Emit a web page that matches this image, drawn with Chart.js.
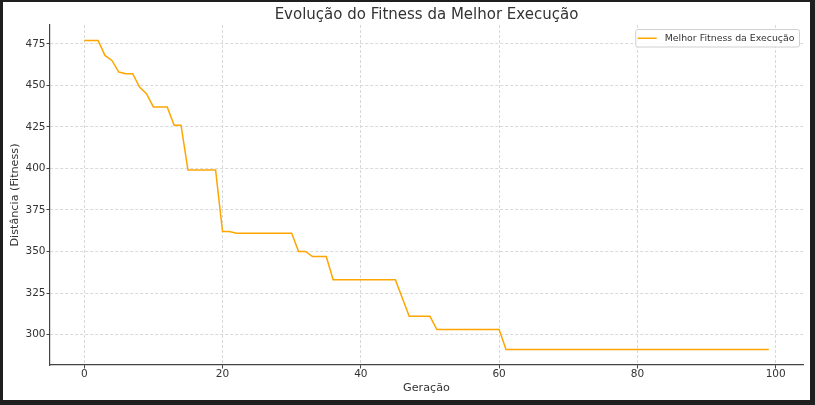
<!DOCTYPE html>
<html>
<head>
<meta charset="utf-8">
<script src="https://cdn.jsdelivr.net/npm/chart.js@4"></script>
<style>
  html, body { margin: 0; padding: 0; background: #1f1f1f; width: 815px; height: 405px; overflow: hidden; }
  #wrap { position: absolute; left: 3px; top: 2px; width: 807px; height: 398px; background: #fff; }
</style>
</head>
<body>
<div id="wrap"><canvas id="c" width="807" height="398"></canvas></div>
<script>
const seriesLabel = "Melhor Fitness da Execução";
const bestFitness = [
  477, 477, 477, 468, 465, 458, 457, 457, 449, 445,
  437, 437, 437, 426, 426, 399, 399, 399, 399, 399,
  362, 362, 361, 361, 361, 361, 361, 361, 361, 361,
  361, 350, 350, 347, 347, 347, 333, 333, 333, 333,
  333, 333, 333, 333, 333, 333, 322, 311, 311, 311,
  311, 303, 303, 303, 303, 303, 303, 303, 303, 303,
  303, 291, 291, 291, 291, 291, 291, 291, 291, 291,
  291, 291, 291, 291, 291, 291, 291, 291, 291, 291,
  291, 291, 291, 291, 291, 291, 291, 291, 291, 291,
  291, 291, 291, 291, 291, 291, 291, 291, 291, 291
];
const xTicks = [0, 20, 40, 60, 80, 100];
const yTicks = [300, 325, 350, 375, 400, 425, 450, 475];

const FONT = "'DejaVu Sans', sans-serif";
const TEXT = "#333";
const GRID = "#cfcfcf";
const LINE = "#ffa500";

// legend box in the upper right corner of the plot area
const legendBox = {
  id: "legendBox",
  afterDraw(chart) {
    const { ctx, chartArea } = chart;
    ctx.save();
    ctx.font = "9.4px " + FONT;
    const tw = ctx.measureText(seriesLabel).width;
    const w = tw + 34, h = 17.5;
    const x = chartArea.right - 4 - w, y = chartArea.top + 4;
    ctx.fillStyle = "rgba(255,255,255,0.9)";
    ctx.strokeStyle = "#d0d0d0";
    ctx.lineWidth = 1;
    ctx.beginPath();
    ctx.roundRect(x + 0.5, y + 0.5, w, h, 2);
    ctx.fill();
    ctx.stroke();
    ctx.strokeStyle = LINE;
    ctx.lineWidth = 1.5;
    ctx.beginPath();
    ctx.moveTo(x + 2.5, y + h / 2 + 0.5);
    ctx.lineTo(x + 21.5, y + h / 2 + 0.5);
    ctx.stroke();
    ctx.fillStyle = TEXT;
    ctx.textBaseline = "middle";
    ctx.fillText(seriesLabel, x + 29.5, y + h / 2 + 0.5);
    ctx.restore();
  }
};

const gridOpts = {
  color: GRID, lineWidth: 0.8,
  tickLength: 3.5, tickColor: "#444", tickWidth: 1, tickBorderDash: []
};

new Chart(document.getElementById("c"), {
  type: "line",
  data: {
    datasets: [{
      label: seriesLabel,
      data: bestFitness.map((v, i) => ({ x: i, y: v })),
      borderColor: LINE,
      borderWidth: 1.5,
      pointRadius: 0,
      tension: 0,
      fill: false
    }]
  },
  options: {
    responsive: false,
    animation: false,
    layout: { padding: { left: 0, right: 7, top: 0, bottom: 0 } },
    plugins: {
      legend: { display: false },
      tooltip: { enabled: false },
      title: {
        display: true,
        fullSize: false,
        text: "Evolução do Fitness da Melhor Execução",
        color: TEXT,
        font: { family: FONT, size: 15, weight: "normal" },
        padding: { top: 4, bottom: 1 }
      }
    },
    scales: {
      x: {
        type: "linear",
        min: -4.95,
        max: 103.95,
        afterBuildTicks: s => { s.ticks = xTicks.map(v => ({ value: v })); },
        afterFit: s => { s.height = 35; },
        grid: gridOpts,
        border: { color: "#444", width: 1.2, dash: [3, 2] },
        ticks: { color: TEXT, font: { family: FONT, size: 10.5 }, padding: -1, maxRotation: 0 },
        title: {
          display: true, text: "Geração", color: TEXT,
          font: { family: FONT, size: 11.2 }, padding: { top: 0, bottom: 5 }
        }
      },
      y: {
        type: "linear",
        min: 281.7,
        max: 486.3,
        afterBuildTicks: s => { s.ticks = yTicks.map(v => ({ value: v })); },
        afterFit: s => { s.width = 47; },
        grid: gridOpts,
        border: { color: "#444", width: 1.2, dash: [3, 2] },
        ticks: { color: TEXT, font: { family: FONT, size: 10.5 }, padding: 1 },
        title: {
          display: true, text: "Distância (Fitness)", color: TEXT,
          font: { family: FONT, size: 11.2 }, padding: { top: 5.4, bottom: 0 }
        }
      }
    }
  },
  plugins: [legendBox]
});
</script>
</body>
</html>
